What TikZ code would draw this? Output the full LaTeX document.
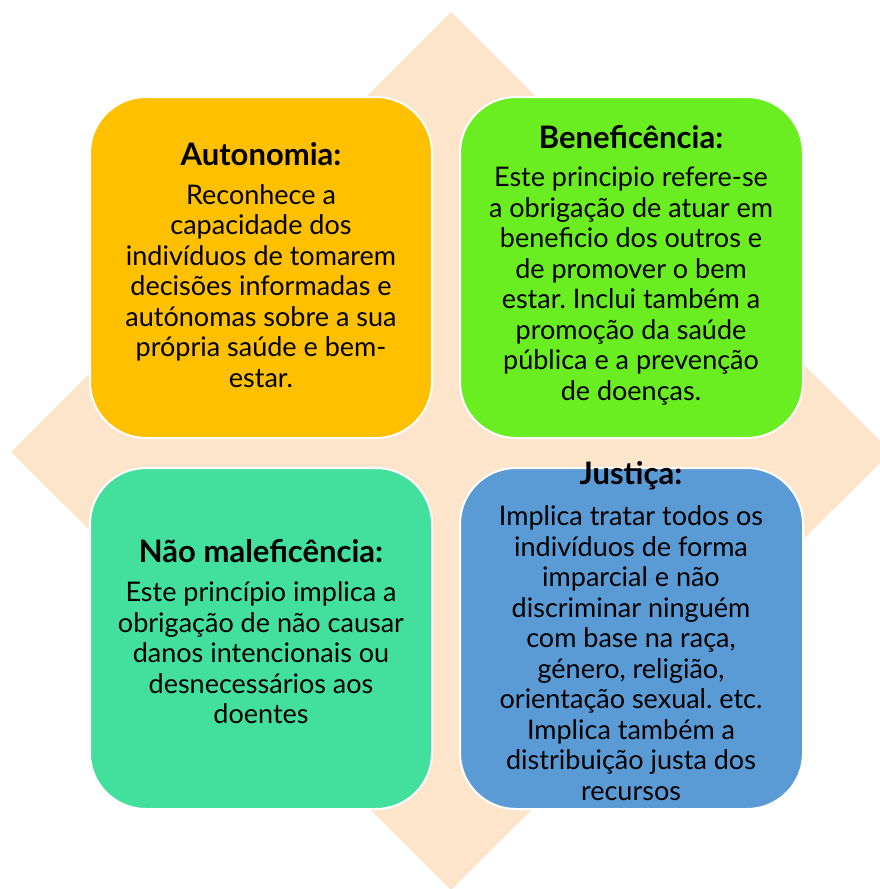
\documentclass[tikz,border=0pt]{standalone}
\usepackage{fontspec}
\setmainfont{Lato}
\frenchspacing
\definecolor{peach}{RGB}{253,229,204}
\definecolor{cyel}{RGB}{255,192,0}
\definecolor{cgreen}{RGB}{106,238,34}
\definecolor{cteal}{RGB}{66,224,156}
\definecolor{cblue}{RGB}{91,155,213}
\tikzset{
  x=1pt,y=-1pt,
  card/.style={draw=white,line width=2pt,rounded corners=56pt},
  ttl/.style={font=\fontsize{31}{30.5}\selectfont\bfseries,inner sep=0pt},
  bodytext/.style={font=\fontsize{27}{30.5}\selectfont,align=center,inner sep=0pt}
}
\begin{document}
\begin{tikzpicture}
\useasboundingbox (0,0) rectangle (880,889);
\fill[peach] (451,12) -- (891,452) -- (451,890) -- (11,452) -- cycle;
\draw[card,fill=cyel] (90,97) rectangle (432,438);
\draw[card,fill=cgreen] (460,97) rectangle (803,438);
\draw[card,fill=cteal] (90,468) rectangle (432,809);
\draw[card,fill=cblue] (460,468) rectangle (803,809);
\node[ttl] (t1) at (261,154) {Autonomia:};
\node[bodytext] (b1) at (261,286) {Reconhece a\\capacidade dos\\indivíduos de tomarem\\decisões informadas e\\autónomas sobre a sua\\própria saúde e bem-\\estar.};
\node[ttl] (t2) at (631,137) {Beneficência:};
\node[bodytext] (b2) at (631,286) {Este principio refere-se\\a obrigação de atuar em\\beneficio dos outros e\\de promover o bem\\estar. Inclui também a\\promoção da saúde\\pública e a prevenção\\de doenças.};
\node[ttl] (t3) at (261,551) {Não maleficência:};
\node[bodytext] (b3) at (261,653) {Este princípio implica a\\obrigação de não causar\\danos intencionais ou\\desnecessários aos\\doentes};
\node[ttl] (t4) at (631,476) {Justiça:};
\node[bodytext] (b4) at (631,653) {Implica tratar todos os\\indivíduos de forma\\imparcial e não\\discriminar ninguém\\com base na raça,\\género, religião,\\orientação sexual. etc.\\Implica também a\\distribuição justa dos\\recursos};
\end{tikzpicture}
\end{document}
